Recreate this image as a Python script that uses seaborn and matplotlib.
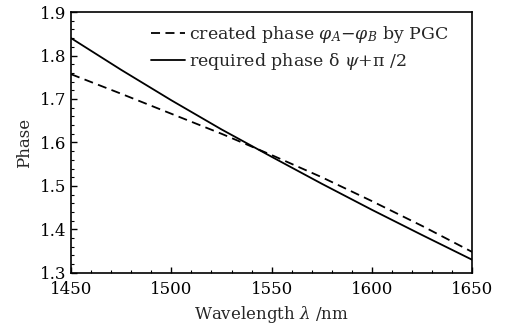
import numpy as np
import pandas as pd
import matplotlib
matplotlib.use('Agg')
import matplotlib.pyplot as plt
from matplotlib.ticker import MultipleLocator
import seaborn as sns

# data
wavelength = [1450, 1475, 1500, 1525, 1550, 1575, 1600, 1625, 1650]
created_phase = [1.757, 1.712, 1.666, 1.620, 1.571, 1.520, 1.465, 1.408, 1.348]
required_phase = [1.840, 1.767, 1.697, 1.630, 1.567, 1.505, 1.445, 1.387, 1.330]

label_created = r'created phase $\varphi_A$$-$$\varphi_B$ by PGC'
label_required = r'required phase δ $\psi$+π /2'

df = pd.DataFrame({
    'Wavelength': wavelength * 2,
    'Phase': created_phase + required_phase,
    'Series': [label_created] * len(wavelength) + [label_required] * len(wavelength),
})

sns.set_style('ticks')
plt.rcParams['font.family'] = ['DejaVu Serif']
plt.rcParams['mathtext.fontset'] = 'dejavuserif'

fig = plt.figure(figsize=(5.15, 3.26), dpi=100)
ax = fig.add_axes([0.138, 0.163, 0.779, 0.800])

sns.lineplot(data=df, x='Wavelength', y='Phase', style='Series',
             dashes={label_created: (5, 3), label_required: ''},
             color='black', linewidth=1.3, ax=ax)

ax.set_xlim(1450, 1650)
ax.set_ylim(1.3, 1.9)
ax.xaxis.set_major_locator(MultipleLocator(50))
ax.xaxis.set_minor_locator(MultipleLocator(10))
ax.yaxis.set_major_locator(MultipleLocator(0.1))
ax.yaxis.set_minor_locator(MultipleLocator(0.02))
ax.tick_params(which='both', direction='in', colors='black', labelsize=12)
ax.tick_params(axis='x', which='major', pad=6)
ax.tick_params(which='major', length=4, width=1)
ax.tick_params(which='minor', length=2.5, width=0.8)
for s in ax.spines.values():
    s.set_linewidth(1.2)
    s.set_color('black')

ax.set_xlabel(r'Wavelength $\lambda$ /nm', fontsize=12, labelpad=4)
ax.set_ylabel('Phase', fontsize=12, labelpad=5)

handles, labels = ax.get_legend_handles_labels()
ax.legend(handles, labels, loc='upper right', frameon=False, fontsize=12.5,
          handlelength=2.0, handletextpad=0.2, borderaxespad=0.3,
          labelspacing=0.35, bbox_to_anchor=(0.97, 1.0))

fig.savefig('out.png', dpi=100)
